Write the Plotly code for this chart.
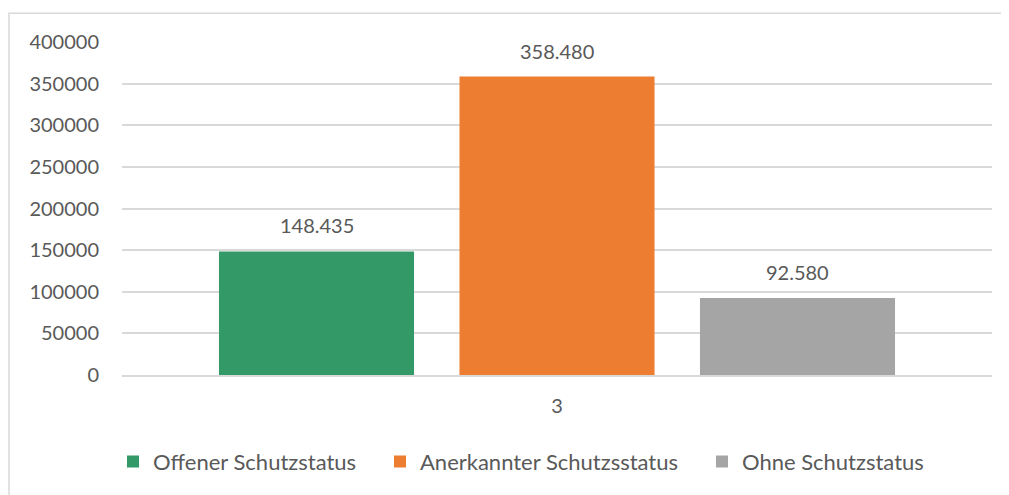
import plotly.graph_objects as go

categories = ["3"]
series_names = ["Offener Schutzstatus", "Anerkannter Schutzsstatus", "Ohne Schutzstatus"]
series_values = [148435, 358480, 92580]
series_colors = ["#339966", "#ED7D31", "#A5A5A5"]
y_ticks = [0, 50000, 100000, 150000, 200000, 250000, 300000, 350000, 400000]

FONT = "Lato"
TXT = "#595959"
# the page body has an 8px margin, so the figure is 8px smaller and shifted
OFF = 8
W, H = 1009 - OFF, 495 - OFF
ML, MR, MT, MB = 122 - OFF, 17, 42 - OFF, 116
pw = W - ML - MR
ph = H - MT - MB

legend_ids = ["legend", "legend2", "legend3"]
legend_marker_px = [128, 395, 717]   # page x of legend marker left edge
SYM_OFF = 15

fig = go.Figure()
for name, val, col, lid in zip(series_names, series_values, series_colors, legend_ids):
    fig.add_trace(go.Bar(
        x=categories, y=[val], name=name,
        marker=dict(color=col, line=dict(width=0)),
        legend=lid,
    ))

bargap, bargroupgap = 0.1707, 0.189
slot = (1 - bargap) / 3
for i, val in enumerate(series_values):
    fig.add_annotation(x=(i - 1) * slot, y=val, xref="x", yref="y",
                       text=f"{val:,}".replace(",", "."), showarrow=False,
                       yanchor="middle", yshift=26,
                       font=dict(family=FONT, size=20, color=TXT))

fig.add_shape(type="rect", xref="paper", yref="paper",
              x0=(1 - ML) / pw, x1=(1030 - ML) / pw,
              y0=1 - (520 - MT) / ph, y1=1 + (MT - 5) / ph,
              line=dict(color="#D9D9D9", width=1.5), fillcolor="rgba(0,0,0,0)", layer="below")

legends = {}
for lid, mpx in zip(legend_ids, legend_marker_px):
    legends[lid] = dict(orientation="h", x=(mpx - SYM_OFF - 122) / pw, xanchor="left",
                        y=-0.26, yanchor="middle", itemwidth=30,
                        bgcolor="rgba(0,0,0,0)",
                        font=dict(family=FONT, size=22, color=TXT))

fig.update_layout(
    width=W, height=H,
    margin=dict(l=ML, r=MR, t=MT, b=MB),
    paper_bgcolor="white", plot_bgcolor="white",
    barmode="group", bargap=bargap, bargroupgap=bargroupgap,
    font=dict(family=FONT, size=20, color=TXT),
    showlegend=True,
    **legends,
)
fig.update_xaxes(type="category", showgrid=False, showline=True, linecolor="#D9D9D9", linewidth=1.5,
                 ticks="", ticklabelstandoff=12, tickfont=dict(family=FONT, size=20, color=TXT))
fig.update_yaxes(range=[0, 400000], tickvals=y_ticks, tickformat="d", showgrid=True,
                 gridcolor="#D9D9D9", gridwidth=1.5, zeroline=False, showline=False, ticks="",
                 ticklabelstandoff=22, tickfont=dict(family=FONT, size=20, color=TXT))

fig.write_html("out.html")
